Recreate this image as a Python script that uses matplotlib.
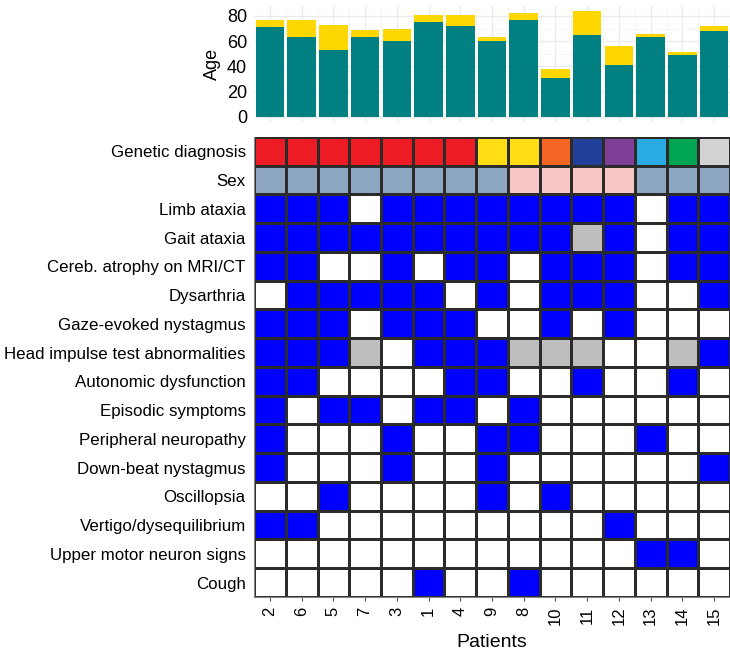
#!/usr/bin/env python3

import numpy as np
import matplotlib.pyplot as plt
from matplotlib.colors import ListedColormap

plt.rcParams['font.family'] = ['Liberation Sans', 'DejaVu Sans']

# Patients in plotting order
patients = ["2", "6", "5", "7", "3", "1", "4", "9", "8", "10", "11", "12", "13", "14", "15"]

# Age at onset (teal) and total age (teal + yellow)
age_onset = [71, 63, 53, 63, 60, 75, 72, 60, 77, 31, 65, 41, 63, 49, 68]
age_now = [77, 77, 73, 69, 70, 81, 81, 63, 82, 38, 84, 56, 66, 51, 72]

# Genetic diagnosis groups and sex
genetic = ["g1", "g1", "g1", "g1", "g1", "g1", "g1", "g2", "g2", "g3", "g4", "g5", "g6", "g7", "g8"]
sex = ["M", "M", "M", "M", "M", "M", "M", "M", "F", "F", "F", "F", "M", "M", "M"]

# Clinical features: 1 present, 0 absent, None not tested
features = ["Limb ataxia", "Gait ataxia", "Cereb. atrophy on MRI/CT", "Dysarthria",
            "Gaze-evoked nystagmus", "Head impulse test abnormalities",
            "Autonomic dysfunction", "Episodic symptoms", "Peripheral neuropathy",
            "Down-beat nystagmus", "Oscillopsia", "Vertigo/dysequilibrium",
            "Upper motor neuron signs", "Cough"]
N = None
feature_values = [
    [1, 1, 1, 0, 1, 1, 1, 1, 1, 1, 1, 1, 0, 1, 1],
    [1, 1, 1, 1, 1, 1, 1, 1, 1, 1, N, 1, 0, 1, 1],
    [1, 1, 0, 0, 1, 0, 1, 1, 0, 1, 1, 1, 0, 1, 1],
    [0, 1, 1, 1, 1, 1, 0, 1, 0, 1, 1, 1, 0, 0, 1],
    [1, 1, 1, 0, 1, 1, 1, 0, 0, 1, 0, 1, 0, 0, 0],
    [1, 1, 1, N, 0, 1, 1, 1, N, N, N, 0, 0, N, 1],
    [1, 1, 0, 0, 0, 0, 1, 1, 0, 0, 1, 0, 0, 1, 0],
    [1, 0, 1, 1, 0, 1, 1, 0, 1, 0, 0, 0, 0, 0, 0],
    [1, 0, 0, 0, 1, 0, 0, 1, 1, 0, 0, 0, 1, 0, 0],
    [1, 0, 0, 0, 1, 0, 0, 1, 0, 0, 0, 0, 0, 0, 1],
    [0, 0, 1, 0, 0, 0, 0, 1, 0, 1, 0, 0, 0, 0, 0],
    [1, 1, 0, 0, 0, 0, 0, 0, 0, 0, 0, 1, 0, 0, 0],
    [0, 0, 0, 0, 0, 0, 0, 0, 0, 0, 0, 0, 1, 1, 0],
    [0, 0, 0, 0, 0, 1, 0, 0, 1, 0, 0, 0, 0, 0, 0],
]

# Colours
feature_colors = {0: "white", 1: "#0000FF", None: "#BEBEBE"}
sex_colors = {"M": "#8DA6C2", "F": "#F8C6C4"}
genetic_colors = {"g1": "#ED1C24", "g2": "#FFDD15", "g3": "#F26522", "g4": "#21409A",
                  "g5": "#7F3F98", "g6": "#29AAE1", "g7": "#00A551", "g8": "#D3D3D3"}

# Build a categorical code matrix and a matching colormap
palette = []
def code_of(color):
    if color not in palette:
        palette.append(color)
    return palette.index(color)

rows = [[code_of(genetic_colors[g]) for g in genetic],
        [code_of(sex_colors[s]) for s in sex]]
for vals in feature_values:
    rows.append([code_of(feature_colors[v]) for v in vals])
codes = np.array(rows)
cmap = ListedColormap(palette)
row_labels = ["Genetic diagnosis", "Sex"] + features

fig = plt.figure(figsize=(7.30, 6.51), dpi=100)

# Heatmap
ax = fig.add_axes([0.348, 0.083, 0.652, 0.7066])
ax.pcolormesh(np.arange(len(patients) + 1) - 0.5, np.arange(len(row_labels) + 1) - 0.5,
              codes, cmap=cmap, vmin=-0.5, vmax=len(palette) - 0.5,
              edgecolors="#2b2b2b", linewidth=1.0)
ax.set_xlim(-0.5, len(patients) - 0.5)
ax.set_ylim(len(row_labels) - 0.5, -0.5)
ax.set_xticks(range(len(patients)))
ax.set_xticklabels(patients, rotation=90, fontsize=12)
ax.set_yticks(range(len(row_labels)))
ax.set_yticklabels(row_labels, fontsize=12.2)
ax.tick_params(axis="y", length=0, pad=6)
ax.tick_params(axis="x", length=3, color="#555555", pad=4)
for side in ["top", "right"]:
    ax.spines[side].set_visible(False)
for side in ["left", "bottom"]:
    ax.spines[side].set_color("#888888")
    ax.spines[side].set_linewidth(0.8)
ax.set_xlabel("Patients", fontsize=14, labelpad=6)

# Stacked bar chart of age
bx = fig.add_axes([0.348, 0.8126, 0.652, 0.1787])
x = np.arange(len(patients))
bx.bar(x, age_onset, width=0.9, color="#008080", zorder=2)
bx.bar(x, np.array(age_now) - np.array(age_onset), bottom=age_onset, width=0.9,
       color="#FFD700", zorder=2)
bx.set_xlim(-0.5, len(patients) - 0.5)
bx.set_ylim(-4.2, 88.2)
bx.set_yticks([0, 20, 40, 60, 80])
bx.set_yticks([10, 30, 50, 70], minor=True)
bx.set_xticks(x)
bx.set_xticks(x[:-1] + 0.5, minor=True)
bx.tick_params(axis="x", which="both", length=0, labelbottom=False)
bx.tick_params(axis="y", which="both", length=0, labelsize=13, pad=5)
bx.grid(True, which="major", color="#EBEBEB", linewidth=1.0, zorder=0)
bx.grid(True, which="minor", color="#F4F4F4", linewidth=0.6, zorder=0)
for spine in bx.spines.values():
    spine.set_visible(False)
bx.set_ylabel("Age", fontsize=13, labelpad=4)

fig.savefig("out.png", dpi=100)
